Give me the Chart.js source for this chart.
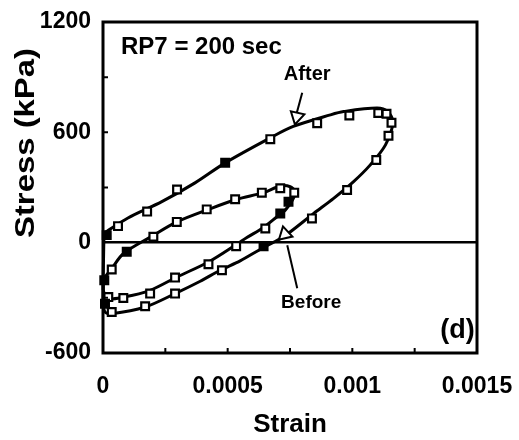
<!DOCTYPE html>
<html><head><meta charset="utf-8">
<script src="https://cdn.jsdelivr.net/npm/chart.js@4.4.1/dist/chart.umd.min.js"></script>
<style>html,body{margin:0;padding:0;background:#fff;}#wrap{width:519px;height:440px;}</style>
</head><body><div id="wrap"><canvas id="c" width="519" height="440"></canvas></div>
<script>
// ---- axes ----
const xTickValues = [0, 0.0005, 0.001, 0.0015];
const xTickLabels = ['0', '0.0005', '0.001', '0.0015'];
const yTickValues = [-600, 0, 600, 1200];
const yTickLabels = ['-600', '0', '600', '1200'];
const xMinorTicks = [0.00025, 0.0005, 0.00075, 0.001, 0.00125];
const yMinorTicks = [-300, 300, 600, 900];
const xTitle = 'Strain';
const yTitle = 'Stress (kPa)';

// ---- fitted curves ----
const afterCurveStrain = [0.000004,0.000100,0.000236,0.000369,0.000490,0.000671,0.000763,0.000912,0.000965,0.001099,0.001142,0.001163,0.001133,0.001072,0.001005,0.000925,0.000845,0.000724,0.000644,0.000550,0.000470,0.000390,0.000289,0.000169,0.000035,0.000008,0.000000,0.000002,0.000004];
const afterCurveStress = [52,134,223,325,434,570,632,695,713,732,713,655,532,423,332,241,159,32,-26,-99,-150,-210,-277,-350,-386,-377,-314,-95,52];
const beforeCurveStrain = [0.000001,0.000001,0.000035,0.000082,0.000196,0.000296,0.000423,0.000537,0.000644,0.000711,0.000751,0.000771,0.000760,0.000731,0.000698,0.000644,0.000577,0.000537,0.000423,0.000296,0.000189,0.000082,0.000015,0.000001];
const beforeCurveStress = [-259,-205,-141,-59,35,113,181,236,272,308,304,277,232,177,141,83,28,-8,-105,-187,-259,-296,-304,-259];

// ---- measured points ----
const afterPtStrain = [0.0000602,0.000177,0.000297,0.000671,0.000859,0.000988,0.001104,0.001137,0.001157,0.001145,0.001096,0.000979,0.000838,0.000477,0.000289,0.000169,0.000035];
const afterPtStress = [90,169,289,563,650,692,705,701,652,581,450,286,132,-150,-277,-346,-377];
const afterSolidStrain = [0.0000149,0.000490,0.000644,0.000008];
const afterSolidStress = [41,434,-19,-332];
const beforePtStrain = [0.000035,0.000202,0.000296,0.000416,0.000530,0.000637,0.000711,0.000767,0.000651,0.000534,0.000423,0.000289,0.000189,0.0000815,0.0000213];
const beforePtStress = [-146,32,113,181,236,272,296,272,77,-19,-117,-190,-277,-301,-296];
const beforeSolidStrain = [0.0000052,0.0000952,0.000744,0.000711];
const beforeSolidStress = [-205,-50,223,159];

// ---- pointer arrows ----
const afterArrowStrain = [0.000799, 0.000775];
const afterArrowStress = [815, 695];
const afterHeadStrain = [0.000777];
const afterHeadStress = [685];
const beforeArrowStrain = [0.000779, 0.000739];
const beforeArrowStress = [-248, -14];
const beforeHeadStrain = [0.000729];
const beforeHeadStress = [46];

const pts = (xs, ys) => xs.map((v, i) => ({x: v, y: ys[i]}));
const FONT = "'Liberation Sans', Arial, Helvetica, sans-serif";

const decor = {
  id: 'decor',
  afterDraw(chart) {
    const {ctx, chartArea: a, scales: {x, y}} = chart;
    ctx.save();
    ctx.strokeStyle = '#000';
    ctx.lineWidth = 2;
    ctx.beginPath();
    xMinorTicks.forEach(v => { const p = x.getPixelForValue(v); ctx.moveTo(p, a.bottom); ctx.lineTo(p, a.bottom - 5); });
    yMinorTicks.forEach(v => { const p = y.getPixelForValue(v); ctx.moveTo(a.left, p); ctx.lineTo(a.left + 5, p); });
    ctx.stroke();
    ctx.lineWidth = 3;
    ctx.strokeRect(a.left, a.top, a.right - a.left, a.bottom - a.top);

    ctx.fillStyle = '#000';
    ctx.textBaseline = 'middle';
    const labels = [
      {t: 'RP7 = 200 sec', x: 0.0000723, y: 1064, s: 24, al: 'left'},
      {t: 'After', x: 0.000819, y: 914, s: 20, al: 'center'},
      {t: 'Before', x: 0.000835, y: -325, s: 19, al: 'center'},
      {t: '(d)', x: 0.001422, y: -477, s: 27, al: 'center'}
    ];
    labels.forEach(l => {
      ctx.font = 'bold ' + l.s + 'px ' + FONT;
      ctx.textAlign = l.al;
      ctx.fillText(l.t, x.getPixelForValue(l.x), y.getPixelForValue(l.y));
    });
    // y title
    ctx.translate(26, 143);
    ctx.rotate(-Math.PI / 2);
    ctx.font = 'bold 28px ' + FONT;
    const w = ctx.measureText(yTitle).width;
    ctx.scale(190 / w, 1);
    ctx.textAlign = 'center';
    ctx.fillText(yTitle, 0, 0);
    ctx.restore();
  }
};

const sq = (data, fill) => ({
  type: 'scatter', data, showLine: false, clip: false,
  pointStyle: 'rect', pointRadius: 5.5, pointHoverRadius: 5.5,
  pointBackgroundColor: fill, pointBorderColor: '#000', pointBorderWidth: 2.2
});
const curve = (data) => ({
  type: 'line', data, showLine: true, pointRadius: 0, borderColor: '#000',
  borderWidth: 3, tension: 0.3, fill: false, clip: false
});
const head = (data, rot) => ({
  type: 'scatter', data, showLine: false, clip: false,
  pointStyle: 'triangle', pointRadius: 8, pointHoverRadius: 8, rotation: rot,
  pointBackgroundColor: '#fff', pointBorderColor: '#000', pointBorderWidth: 2
});

new Chart(document.getElementById('c'), {
  data: {
    datasets: [
      head(pts(afterHeadStrain, afterHeadStress), 193),
      head(pts(beforeHeadStrain, beforeHeadStress), -13),
      sq(pts(afterPtStrain, afterPtStress), '#fff'),
      sq(pts(afterSolidStrain, afterSolidStress), '#000'),
      sq(pts(beforePtStrain, beforePtStress), '#fff'),
      sq(pts(beforeSolidStrain, beforeSolidStress), '#000'),
      {...curve(pts(afterArrowStrain, afterArrowStress)), tension: 0, borderWidth: 2},
      {...curve(pts(beforeArrowStrain, beforeArrowStress)), tension: 0, borderWidth: 2},
      curve(pts(afterCurveStrain, afterCurveStress)),
      curve(pts(beforeCurveStrain, beforeCurveStress))
    ]
  },
  options: {
    responsive: false, animation: false, devicePixelRatio: 1,
    layout: {padding: {left: 0, right: 42, top: 22, bottom: 0}},
    plugins: {legend: {display: false}, tooltip: {enabled: false}},
    scales: {
      x: {
        type: 'linear', position: 'bottom', min: 0, max: 0.0015,
        afterBuildTicks: s => { s.ticks = xTickValues.map(v => ({value: v})); },
        afterFit: s => { s.height = 87; s.paddingLeft = 0; s.paddingRight = 0; },
        ticks: {
          callback: (v, i) => xTickLabels[i], color: '#000', padding: 20,
          maxRotation: 0, autoSkip: false,
          font: {family: FONT, size: 23, weight: 'bold'}
        },
        grid: {display: false, drawTicks: false},
        border: {display: false},
        title: {display: true, text: xTitle, color: '#000', padding: {top: 0, bottom: 0},
          font: {family: FONT, size: 26, weight: 'bold', lineHeight: 1.2}}
      },
      y: {
        type: 'linear', min: -600, max: 1200,
        afterBuildTicks: s => { s.ticks = yTickValues.map(v => ({value: v})); },
        afterFit: s => { s.width = 103; s.paddingTop = 0; s.paddingBottom = 0; },
        ticks: {
          callback: (v, i) => yTickLabels[i], color: '#000', padding: 12,
          font: {family: FONT, size: 23, weight: 'bold'}
        },
        grid: {
          drawTicks: false,
          color: c => (c.tick && c.tick.value === 0) ? '#000' : 'rgba(0,0,0,0)',
          lineWidth: c => (c.tick && c.tick.value === 0) ? 2.5 : 0
        },
        border: {display: false}
      }
    }
  },
  plugins: [decor]
});
</script>
</body></html>
